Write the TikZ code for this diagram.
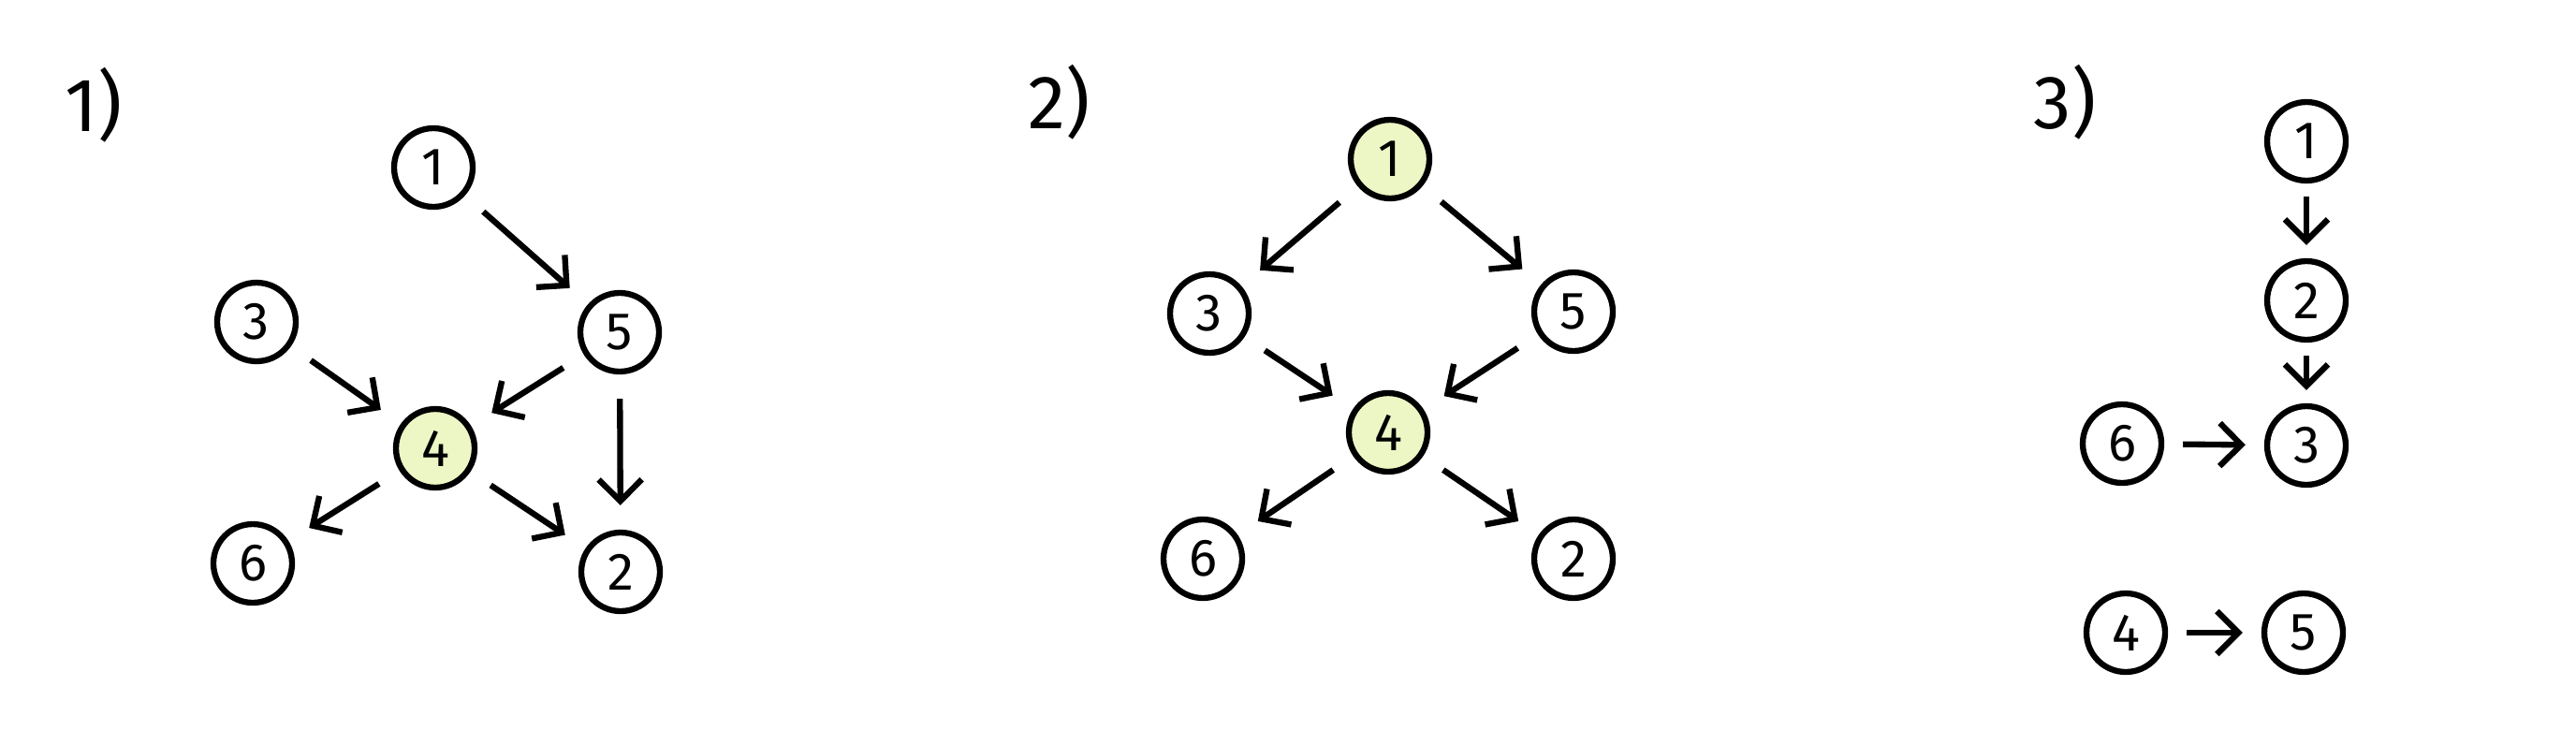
\documentclass[tikz,border=0pt]{standalone}
\usepackage{fontspec}
\setmainfont{Fira Sans}
\usetikzlibrary{arrows.meta}
\definecolor{hilite}{RGB}{237,247,197}
\tikzset{
    vertex/.style = {draw, circle, line width=1.8pt, minimum size=0.84cm, inner sep=0pt, font=\fontsize{16}{16}\selectfont},
    marked/.style = {vertex, fill=hilite},
    tag/.style = {font=\fontsize{23}{23}\selectfont},
}
\tikzset{
    edge/.style = {draw, line width=1.8pt, -{Straight Barb[length=2.3mm, width=4.6mm]}, shorten <=#1, shorten >=#1},
    edge/.default = 0.26cm,
}
\begin{document}
\begin{tikzpicture}
        \useasboundingbox (0, 0) rectangle (27.52, -7.79);
        % 1)
        \node[tag] (L1) at (1.00, -1.12) {1)};
        \node[vertex] (A1) at (4.63, -1.79) {1};
        \node[vertex] (A3) at (2.74, -3.44) {3};
        \node[vertex] (A5) at (6.62, -3.55) {5};
        \node[marked] (A4) at (4.65, -4.79) {4};
        \node[vertex] (A6) at (2.70, -6.02) {6};
        \node[vertex] (A2) at (6.63, -6.11) {2};
        \draw[edge] (A1) to (A5);
        \draw[edge] (A3) to (A4);
        \draw[edge] (A5) to (A4);
        \draw[edge] (A5) to (A2);
        \draw[edge] (A4) to (A6);
        \draw[edge] (A4) to (A2);
        % 2)
        \node[tag] (L2) at (11.32, -1.09) {2)};
        \node[marked] (B1) at (14.85, -1.70) {1};
        \node[vertex] (B3) at (12.92, -3.35) {3};
        \node[vertex] (B5) at (16.81, -3.33) {5};
        \node[marked] (B4) at (14.83, -4.62) {4};
        \node[vertex] (B6) at (12.85, -5.97) {6};
        \node[vertex] (B2) at (16.81, -5.97) {2};
        \draw[edge] (B1) to (B3);
        \draw[edge] (B1) to (B5);
        \draw[edge] (B3) to (B4);
        \draw[edge] (B5) to (B4);
        \draw[edge] (B4) to (B6);
        \draw[edge] (B4) to (B2);
        % 3)
        \node[tag] (L3) at (22.06, -1.09) {3)};
        \node[vertex] (C1) at (24.64, -1.51) {1};
        \node[vertex] (C2) at (24.64, -3.21) {2};
        \node[vertex] (C3) at (24.64, -4.76) {3};
        \node[vertex] (C6) at (22.67, -4.74) {6};
        \node[vertex] (C4) at (22.71, -6.76) {4};
        \node[vertex] (C5) at (24.61, -6.76) {5};
        \draw[edge=0.14cm] (C1) to (C2);
        \draw[edge=0.14cm] (C2) to (C3);
        \draw[edge=0.2cm] (C6) to (C3);
        \draw[edge=0.2cm] (C4) to (C5);
    \end{tikzpicture}
\end{document}
